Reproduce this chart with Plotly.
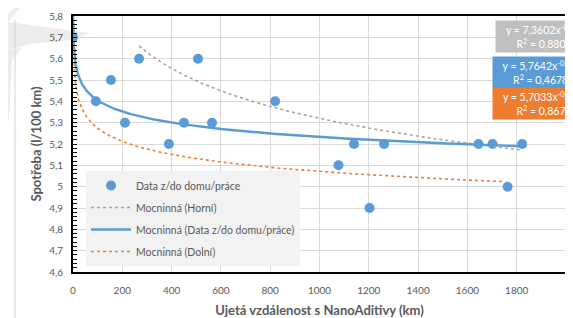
import numpy as np
import plotly.graph_objects as go

# ---- data ----
dist_km = [0, 93, 154, 211, 268, 389, 450, 507, 564, 820, 1077, 1140, 1203, 1262, 1645, 1702, 1763, 1822]
consumption = [5.7, 5.4, 5.5, 5.3, 5.6, 5.2, 5.3, 5.6, 5.3, 5.4, 5.1, 5.2, 4.9, 5.2, 5.2, 5.2, 5.0, 5.2]

# power trendlines y = a * x^b (coefficients shown in the chart)
trend_names = ["Mocninná (Horní)", "Mocninná (Data z/do domu/práce)", "Mocninná (Dolní)"]
trend_a = [7.3602, 5.7642, 5.7033]
trend_b = [-0.047, -0.014, -0.017]
trend_r2 = ["0,8805", "0,4678", "0,867"]
trend_a_txt = ["7,3602", "5,7642", "5,7033"]
trend_b_txt = ["-0,047", "-0,014", "-0,017"]
trend_xrange = [(268, 1815), (0.55, 1822), (0.35, 1753)]

x_ticks = list(range(0, 2001, 200))
y_ticks = [round(4.6 + 0.1 * i, 1) for i in range(13)]

# ---- styling (page pixel coords; page body has an 8px margin) ----
OFF = 8
W, H = 573 - OFF, 318 - OFF
L, R, T, B = 73, 566, 16, 272          # plot area in page pixels
def px(x): return (x - L) / (R - L)
def py(y): return (B - y) / (B - T)

BLUE = "#5b9bd5"
ORANGE = "#ed7d31"
GRAY = "#a5a5a5"
BOXGRAY = "#bfbfbf"
TXT = "#595959"
FONT = "Lato, 'Open Sans', sans-serif"

fig = go.Figure()

fig.add_trace(go.Scatter(
    x=dist_km, y=consumption, mode="markers", name="Data z/do domu/práce",
    marker=dict(color=BLUE, size=10), legendgroup="g1", cliponaxis=True))

styles = [dict(color=GRAY, width=1.6, dash="dot"),
          dict(color=BLUE, width=2.4),
          dict(color=ORANGE, width=1.6, dash="dot")]
for i, name in enumerate(trend_names):
    x0, x1 = trend_xrange[i]
    xs = np.geomspace(x0, x1, 400)
    ys = trend_a[i] * xs ** trend_b[i]
    fig.add_trace(go.Scatter(x=xs, y=ys, mode="lines", name=name, line=styles[i],
                             legendgroup="g%d" % (i + 2), hoverinfo="skip"))

# equation boxes
box_cols = [BOXGRAY, BLUE, ORANGE]
box_pos = [(495, 20), (492, 55.5), (492, 87)]
for i in range(3):
    bx, by = box_pos[i]
    fig.add_annotation(
        xref="paper", yref="paper", x=px(bx), y=py(by), xanchor="left", yanchor="top",
        text="y = %sx<sup>%s</sup><br>R<sup>2</sup> = %s" % (trend_a_txt[i], trend_b_txt[i], trend_r2[i]),
        showarrow=False, bgcolor=box_cols[i], width=92, height=27, borderpad=2,
        font=dict(color="white", size=10.5, family=FONT), align="center")

# faint watermark shapes on the left
wm = "rgba(200,200,200,0.35)"
def path(pts):
    s = "M %f %f " % (px(pts[0][0]), py(pts[0][1]))
    s += " ".join("L %f %f" % (px(a), py(b)) for a, b in pts[1:])
    return s + " Z"
fig.add_shape(type="path", xref="paper", yref="paper", layer="below", line_width=0, fillcolor=wm,
              path=path([(8, 22), (90, 33), (72, 40), (30, 44), (8, 50)]))
fig.add_shape(type="path", xref="paper", yref="paper", layer="below", line_width=0, fillcolor=wm,
              path=path([(14, 8), (20, 8), (8, 22), (8, 14)]))
fig.add_shape(type="path", xref="paper", yref="paper", layer="below", line_width=0, fillcolor=wm,
              path=path([(8, 50), (22, 48), (12, 60), (9, 120), (8, 122)]))
fig.add_shape(type="line", xref="paper", yref="paper", layer="below",
              x0=px(15), x1=px(15), y0=py(20), y1=py(318),
              line=dict(color="#d4d4d4", width=1))

fig.update_layout(
    width=W, height=H,
    margin=dict(l=L - OFF, r=(573 - R), t=T - OFF, b=(318 - B), pad=0, autoexpand=False),
    paper_bgcolor="white", plot_bgcolor="white",
    separators=", ",
    font=dict(family=FONT, color=TXT, size=10),
    showlegend=True,
    legend=dict(x=px(86), y=py(171), xanchor="left", yanchor="top",
                bgcolor="#f2f2f2", borderwidth=0, traceorder="grouped",
                tracegroupgap=3, itemwidth=40,
                font=dict(size=10.5, color=TXT, family=FONT)),
    xaxis=dict(range=[0, 2000], tickvals=x_ticks, ticktext=[str(v) for v in x_ticks],
               showgrid=True, gridcolor="#d9d9d9", gridwidth=1, zeroline=False,
               showline=True, linecolor="black", linewidth=1.5, mirror=True,
               ticks="", ticklabelstandoff=8, automargin=False,
               title=dict(text="<b>Ujetá vzdálenost s NanoAditivy (km)</b>", standoff=12,
                          font=dict(size=13, color=TXT, family=FONT)),
               tickfont=dict(size=10, color=TXT)),
    yaxis=dict(range=[4.6, 5.8], tickvals=y_ticks,
               ticktext=[("%.1f" % v).replace(".", ",").replace(",0", "") for v in y_ticks],
               showgrid=True, gridcolor="#d9d9d9", gridwidth=1, zeroline=False,
               showline=True, linecolor="black", linewidth=1.8, mirror=True,
               ticks="inside", ticklen=4, tickcolor="black", automargin=False,
               minor=dict(dtick=0.02, ticks="inside", ticklen=4, tickcolor="black", showgrid=False),
               ticklabelstandoff=6,
               title=dict(text="<b>Spotřeba (l/100 km)</b>", standoff=5,
                          font=dict(size=13, color=TXT, family=FONT)),
               tickfont=dict(size=10, color=TXT)),
)

fig.write_html("out.html")
